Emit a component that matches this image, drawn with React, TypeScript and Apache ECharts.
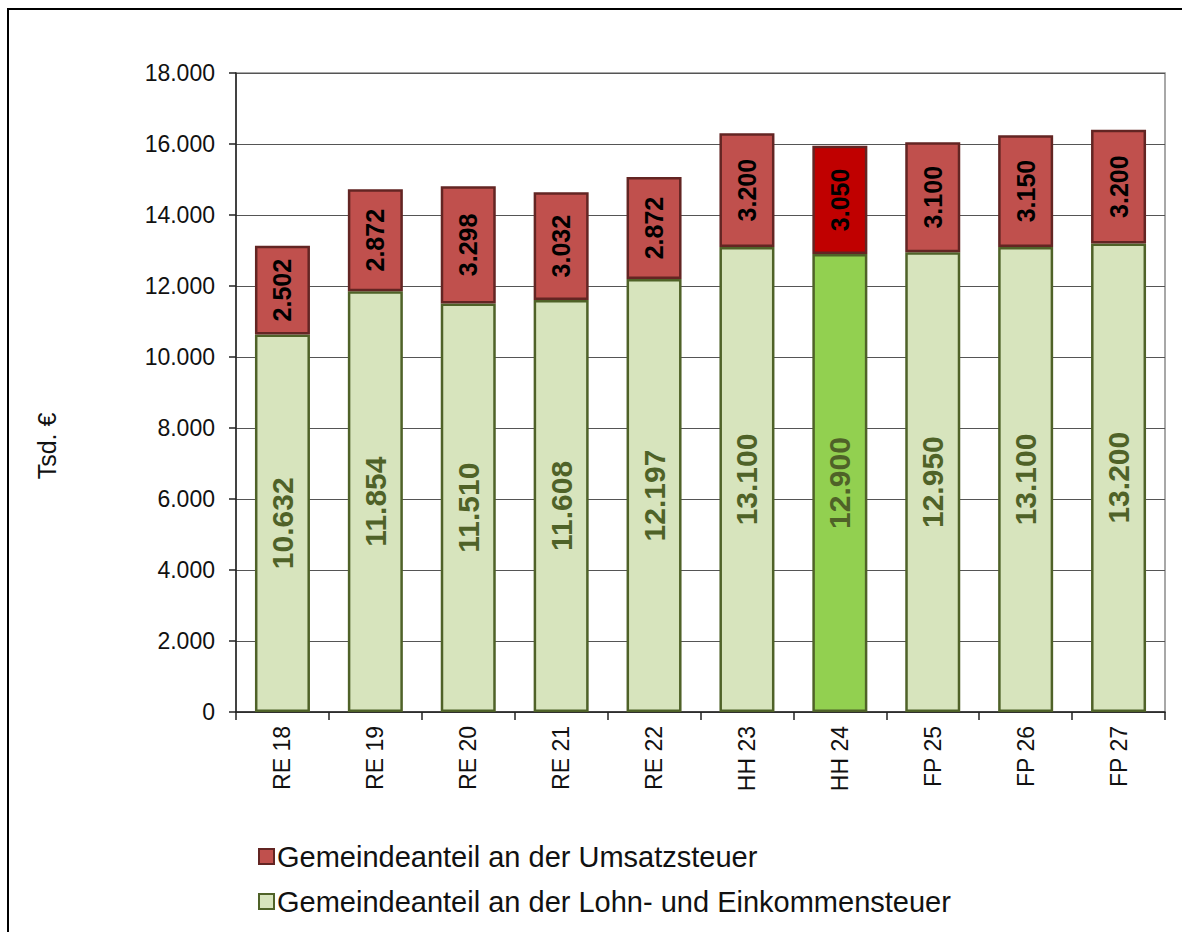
import React, { useEffect, useRef } from "react";
import * as echarts from "echarts";

const categories = ["RE 18", "RE 19", "RE 20", "RE 21", "RE 22", "HH 23", "HH 24", "FP 25", "FP 26", "FP 27"];
const lohnEinkommen = [10632, 11854, 11510, 11608, 12197, 13100, 12900, 12950, 13100, 13200];
const umsatz = [2502, 2872, 3298, 3032, 2872, 3200, 3050, 3100, 3150, 3200];
const highlightIndex = 6;
const yTicks = { min: 0, max: 18000, interval: 2000 };
const yAxisTitle = "Tsd. €";

const fmt = (v: number) => {
  const s = Math.round(v).toString();
  return s.replace(/\B(?=(\d{3})+(?!\d))/g, ".");
};

const FONT = "Liberation Sans, Arial, sans-serif";

export default function App() {
  const ref = useRef<HTMLDivElement>(null);
  useEffect(() => {
    if (!ref.current) return;
    const chart = echarts.init(ref.current, undefined, { renderer: "svg" });
    const lohnData = lohnEinkommen.map((v, i) =>
      i === highlightIndex ? { value: v, itemStyle: { color: "#92D050" } } : v
    );
    const umsData = umsatz.map((v, i) =>
      i === highlightIndex ? { value: v, itemStyle: { color: "#C00000" } } : v
    );
    chart.setOption({
      animation: false,
      textStyle: { fontFamily: FONT },
      graphic: [
        {
          type: "rect",
          shape: { x: 8, y: 9, width: 1300, height: 1100 },
          style: { fill: "none", stroke: "#000", lineWidth: 2 },
          silent: true,
        },
        {
          type: "text",
          x: 47,
          y: 446,
          rotation: Math.PI / 2,
          style: {
            text: yAxisTitle,
            fontSize: 25,
            fill: "#111",
            fontFamily: FONT,
            align: "center",
            verticalAlign: "middle",
          },
          silent: true,
        },
      ],
      grid: {
        left: 236,
        right: 17,
        top: 73,
        bottom: 220,
        show: true,
        borderColor: "#8c8c8c",
        borderWidth: 1.5,
        containLabel: false,
      },
      legend: {
        orient: "vertical",
        left: 253,
        top: 837,
        itemWidth: 15,
        itemHeight: 15,
        itemGap: 16,
        icon: "rect",
        textStyle: { fontSize: 29, color: "#111", fontFamily: FONT, padding: [0, 0, 0, -2] },
        data: ["Gemeindeanteil an der Umsatzsteuer", "Gemeindeanteil an der Lohn- und Einkommensteuer"],
      },
      xAxis: {
        type: "category",
        data: categories,
        axisLine: { show: true, lineStyle: { color: "#222", width: 1.5 } },
        axisTick: { show: true, length: 8, lineStyle: { color: "#222", width: 1.5 } },
        axisLabel: { rotate: 90, margin: 14, fontSize: 23, color: "#111", fontFamily: FONT },
      },
      yAxis: {
        type: "value",
        min: yTicks.min,
        max: yTicks.max,
        interval: yTicks.interval,
        axisLine: { show: true, lineStyle: { color: "#222", width: 1.5 } },
        axisTick: { show: true, length: 7, lineStyle: { color: "#222", width: 1.5 } },
        axisLabel: { margin: 21, fontSize: 23, color: "#111", formatter: (v: number) => fmt(v), fontFamily: FONT },
        splitLine: { show: true, lineStyle: { color: "#555", width: 1.2 } },
      },
      series: [
        {
          name: "Gemeindeanteil an der Lohn- und Einkommensteuer",
          type: "bar",
          stack: "total",
          barWidth: 55,
          data: lohnData,
          itemStyle: { color: "#D7E4BD", borderColor: "#4F6228", borderWidth: 2.5 },
          label: {
            show: true,
            position: "inside",
            rotate: 90,
            fontSize: 30,
            fontWeight: "bold",
            color: "#4F6228",
            fontFamily: FONT,
            formatter: (p: any) => fmt(p.value),
          },
        },
        {
          name: "Gemeindeanteil an der Umsatzsteuer",
          type: "bar",
          stack: "total",
          barWidth: 55,
          data: umsData,
          itemStyle: { color: "#C0504D", borderColor: "#632523", borderWidth: 2.5 },
          label: {
            show: true,
            position: "inside",
            rotate: 90,
            fontSize: 25,
            fontWeight: "bold",
            color: "#000",
            fontFamily: FONT,
            formatter: (p: any) => fmt(p.value),
          },
        },
      ],
    });
    return () => chart.dispose();
  }, []);
  return (
    <div
      ref={ref}
      style={{ position: "absolute", left: 0, top: 0, width: 1182, height: 932, background: "#fff" }}
    />
  );
}
